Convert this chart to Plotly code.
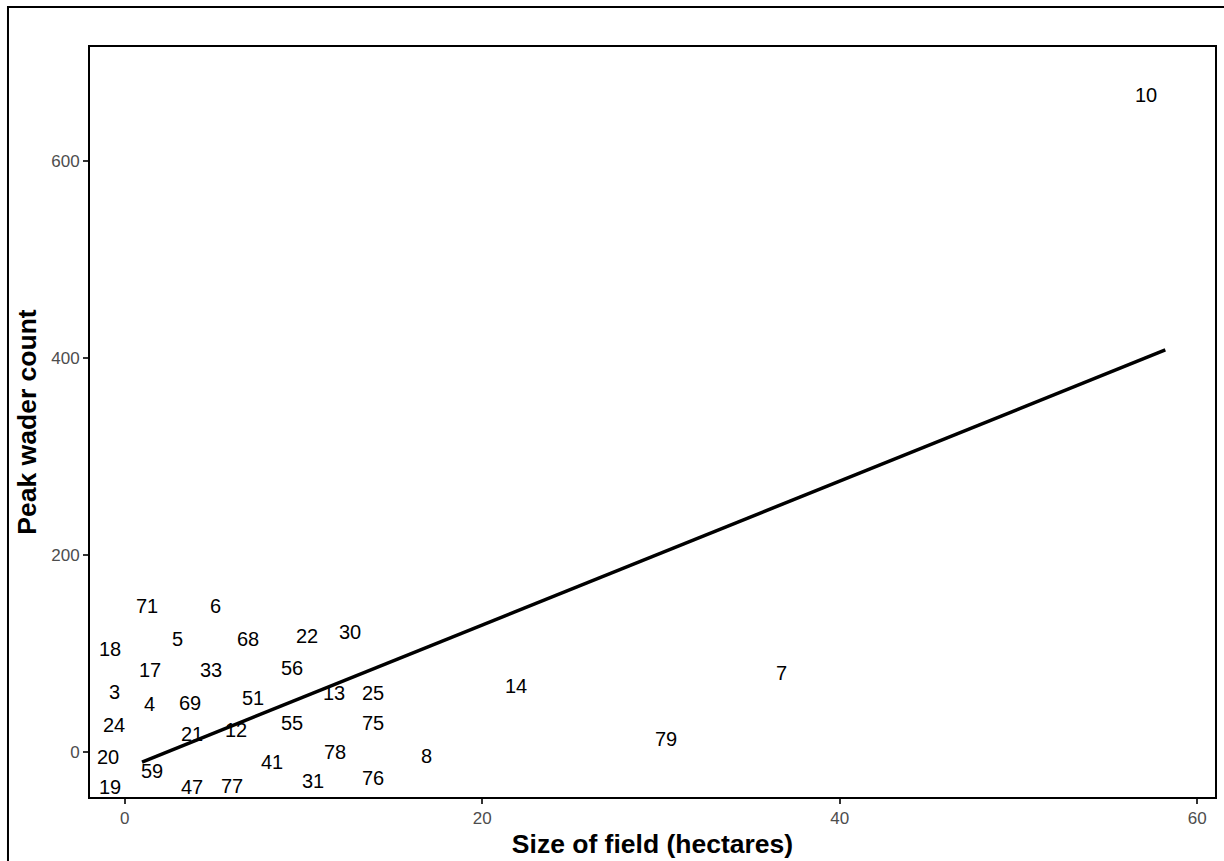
import plotly.graph_objects as go

# Field labels (text marks) with their field size (ha) and peak wader count
field_ids = ["10", "7", "14", "79", "8", "71", "6", "5", "68", "22", "30", "18", "17", "33",
             "56", "3", "4", "69", "51", "13", "25", "24", "21", "12", "55", "75", "20",
             "78", "41", "59", "76", "19", "47", "77", "31"]
field_size = [57.16, 36.77, 21.87, 30.3, 16.88, 1.25, 5.06, 2.93, 6.91, 10.18, 12.6, -0.8, 1.43, 4.82,
              9.35, -0.58, 1.38, 3.67, 7.19, 11.71, 13.89, -0.58, 3.76, 6.22, 9.35, 13.89, -0.91,
              11.76, 8.23, 1.53, 13.89, -0.8, 3.76, 6.01, 10.52]
peak_count = [668.5, 82.3, 69.1, 15.5, -1.7, 150, 150, 116.7, 116.7, 119.8, 123.8, 106.6, 85.3, 85.3,
              87.3, 63.1, 50.9, 51.9, 57, 62.1, 62.1, 29.7, 20.6, 24.6, 31.7, 31.7, -2.7,
              2.3, -7.8, -16.9, -24, -33.1, -33.1, -32.1, -27.1]

# Fitted regression line (endpoints)
fit_x = [0.97, 58.22]
fit_y = [-10.1, 408.0]

x_ticks = [0, 20, 40, 60]
y_ticks = [0, 200, 400, 600]

FONT = "Liberation Sans, Arial, Helvetica, sans-serif"

fig = go.Figure()
fig.add_trace(go.Scatter(
    x=fit_x, y=fit_y, mode="lines",
    line=dict(color="black", width=3.5),
    hoverinfo="skip", showlegend=False,
))

label_annotations = [
    dict(x=xv, y=yv, xref="x", yref="y", text=t, showarrow=False,
         xanchor="center", yanchor="middle", yshift=-2,
         font=dict(family=FONT, size=20, color="black"))
    for t, xv, yv in zip(field_ids, field_size, peak_count)
]

axis_common = dict(
    showgrid=False, zeroline=False,
    showline=True, linecolor="black", linewidth=2, mirror=True,
    ticks="outside", ticklen=5, tickwidth=1.5, tickcolor="#333333",
    tickfont=dict(family=FONT, size=17, color="#4D4D4D"),
)

fig.update_layout(
    width=1224, height=861,
    margin=dict(l=89.5, r=7.3, t=46.7, b=62.7),
    paper_bgcolor="white", plot_bgcolor="white",
    font=dict(family=FONT),
    annotations=label_annotations,
    xaxis=dict(range=[-1.94, 61.0], tickvals=x_ticks,
               title=dict(text="<b>Size of field (hectares)</b>",
                          font=dict(family=FONT, size=26.5, color="black"), standoff=7),
               **axis_common),
    yaxis=dict(range=[-45.6, 715.4], tickvals=y_ticks,
               title=dict(text="<b>Peak wader count</b>",
                          font=dict(family=FONT, size=26.5, color="black"), standoff=7),
               **axis_common),
    shapes=[dict(type="rect", xref="paper", yref="paper",
                 x0=-0.0729, x1=1.05, y0=-0.2, y1=1.0532,
                 line=dict(color="black", width=2), fillcolor="rgba(0,0,0,0)", layer="above")],
)

fig.write_html("out.html",
               config={"displayModeBar": False},
               post_script="document.body.style.margin='0';document.body.style.overflow='hidden';")
